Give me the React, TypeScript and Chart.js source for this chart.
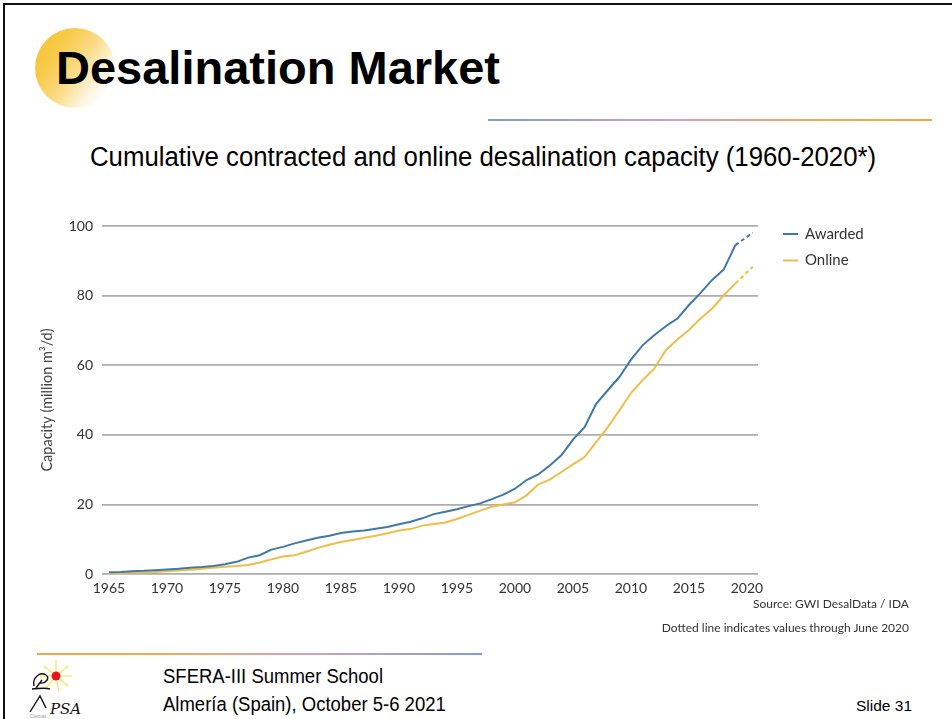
import React, { useEffect, useRef } from "react";
import { Chart, registerables } from "chart.js";

Chart.register(...registerables);

const years: number[] = [
  1965, 1966, 1967, 1968, 1969, 1970, 1971, 1972, 1973, 1974,
  1975, 1976, 1977, 1978, 1979, 1980, 1981, 1982, 1983, 1984,
  1985, 1986, 1987, 1988, 1989, 1990, 1991, 1992, 1993, 1994,
  1995, 1996, 1997, 1998, 1999, 2000, 2001, 2002, 2003, 2004,
  2005, 2006, 2007, 2008, 2009, 2010, 2011, 2012, 2013, 2014,
  2015, 2016, 2017, 2018, 2019, 2020.5,
];

const awarded: number[] = [
  0.5, 0.6, 0.8, 0.9, 1.1, 1.3, 1.5, 1.8, 2.0, 2.3,
  2.8, 3.5, 4.7, 5.4, 7.0, 7.8, 8.8, 9.6, 10.4, 11.0,
  11.8, 12.2, 12.5, 13.0, 13.5, 14.3, 15.0, 16.0, 17.2, 17.9,
  18.6, 19.5, 20.3, 21.5, 22.8, 24.5, 27.0, 28.6, 31.2, 34.1,
  38.6, 42.2, 48.9, 52.8, 56.6, 61.6, 65.7, 68.6, 71.2, 73.4,
  77.3, 80.8, 84.5, 87.5, 94.5, 98.1,
];

const online: number[] = [
  0.2, 0.3, 0.4, 0.5, 0.6, 0.8, 1.0, 1.2, 1.5, 1.8,
  2.1, 2.3, 2.6, 3.3, 4.2, 5.0, 5.4, 6.4, 7.5, 8.4,
  9.2, 9.8, 10.4, 11.0, 11.7, 12.5, 12.9, 13.9, 14.4, 14.8,
  15.8, 17.0, 18.2, 19.3, 20.0, 20.6, 22.6, 25.7, 27.1, 29.3,
  31.5, 33.6, 37.9, 42.2, 47.0, 52.0, 55.7, 59.0, 64.3, 67.4,
  70.1, 73.4, 76.3, 80.1, 83.5, 88.3,
];

const xTickYears: number[] = [1965, 1970, 1975, 1980, 1985, 1990, 1995, 2000, 2005, 2010, 2015, 2020];
const seriesNames: string[] = ["Awarded", "Online"];
const seriesColors: string[] = ["#3f78a9", "#efbd4a"];

const CHART_FONT = "Lato, 'Open Sans', sans-serif";
const SLIDE_FONT = "'Liberation Sans', Arial, sans-serif";

const legendPlugin = {
  id: "sideLegend",
  afterDraw(chart: any) {
    const { ctx, chartArea } = chart;
    ctx.save();
    ctx.font = `15px ${CHART_FONT}`;
    ctx.textBaseline = "middle";
    chart.data.datasets.forEach((ds: any, i: number) => {
      const y = chartArea.top + 8 + i * 26.5;
      const x0 = chartArea.right + 25;
      ctx.strokeStyle = ds.borderColor;
      ctx.lineWidth = 2;
      ctx.beginPath();
      ctx.moveTo(x0, y);
      ctx.lineTo(x0 + 15, y);
      ctx.stroke();
      ctx.fillStyle = "#333";
      ctx.fillText(ds.label, x0 + 22, y);
    });
    ctx.restore();
  },
};

function ChartView() {
  const ref = useRef<HTMLCanvasElement | null>(null);
  useEffect(() => {
    if (!ref.current) return;
    const lastIdx = years.length - 1;
    const mk = (vals: number[], i: number) => ({
      label: seriesNames[i],
      data: years.map((yr, k) => ({ x: yr, y: vals[k] })),
      borderColor: seriesColors[i],
      backgroundColor: seriesColors[i],
      borderWidth: 2,
      pointRadius: 0,
      tension: 0,
      fill: false,
      segment: {
        borderDash: (c: any) => (c.p1DataIndex === lastIdx ? [4, 3] : undefined),
      },
    });
    const chart = new Chart(ref.current, {
      type: "line",
      data: { datasets: [mk(awarded, 0), mk(online, 1)] },
      options: {
        animation: false,
        responsive: false,
        maintainAspectRatio: false,
        layout: { padding: { top: 20, right: 142, left: 0, bottom: 0 } },
        plugins: { legend: { display: false }, tooltip: { enabled: false } },
        scales: {
          x: {
            type: "linear",
            min: 1964.4,
            max: 2020.95,
            afterBuildTicks: (scale: any) => {
              scale.ticks = xTickYears.map((v) => ({ value: v }));
            },
            afterFit: (scale: any) => {
              scale.height = 28;
            },
            grid: { display: false, drawTicks: false },
            border: { display: false },
            ticks: {
              autoSkip: false,
              maxRotation: 0,
              padding: 6,
              color: "#333",
              font: { family: CHART_FONT, size: 14 },
              callback: (v: any) => String(v),
            },
          },
          y: {
            min: 0,
            max: 100,
            afterFit: (scale: any) => {
              scale.width = 72;
            },
            grid: { color: "#adadad", lineWidth: 1.7, drawTicks: false },
            border: { display: false },
            ticks: {
              stepSize: 20,
              padding: 9,
              color: "#333",
              font: { family: CHART_FONT, size: 14 },
            },
            title: {
              display: true,
              text: "Capacity (million m³/d)",
              color: "#444",
              padding: { top: 9, bottom: 0 },
              font: { family: CHART_FONT, size: 14.5 },
            },
          },
        },
      },
      plugins: [legendPlugin],
    });
    return () => chart.destroy();
  }, []);
  return (
    <canvas
      ref={ref}
      width={870}
      height={396}
      style={{ position: "absolute", left: 30, top: 206, width: 870, height: 396 }}
    />
  );
}

export default function App() {
  return (
    <div
      style={{
        position: "absolute",
        left: 0,
        top: 0,
        width: 952,
        height: 719,
        overflow: "hidden",
        background: "#fff",
      }}
    >
      {/* slide frame */}
      <div
        style={{
          position: "absolute",
          left: 3,
          top: 3,
          width: 1000,
          height: 800,
          borderTop: "2px solid #111",
          borderLeft: "2px solid #111",
        }}
      />
      {/* title decoration */}
      <div
        style={{
          position: "absolute",
          left: 35,
          top: 28,
          width: 80,
          height: 80,
          borderRadius: "50%",
          background:
            "linear-gradient(125deg, #f5c12f 0%, #f7ca48 28%, #fadb88 52%, #fff4dc 72%, #ffffff 86%)",
        }}
      />
      <div
        style={{
          position: "absolute",
          left: 56,
          top: 44,
          fontFamily: SLIDE_FONT,
          fontWeight: "bold",
          fontSize: 47,
          lineHeight: 1,
          color: "#000",
          whiteSpace: "nowrap",
        }}
      >
        Desalination Market
      </div>
      <div
        style={{
          position: "absolute",
          left: 488,
          top: 119,
          width: 444,
          height: 2,
          background: "linear-gradient(90deg, #7b9fd2 0%, #d7a3b4 45%, #f0aa58 75%, #f2a640 100%)",
        }}
      />
      <div
        style={{
          position: "absolute",
          left: 90,
          top: 144,
          fontFamily: SLIDE_FONT,
          fontSize: 27,
          lineHeight: 1,
          color: "#000",
          whiteSpace: "nowrap",
          transform: "scaleX(0.954)",
          transformOrigin: "left top",
        }}
      >
        Cumulative contracted and online desalination capacity (1960-2020*)
      </div>

      <ChartView />

      <div
        style={{
          position: "absolute",
          right: 43,
          top: 598,
          fontFamily: CHART_FONT,
          fontSize: 12,
          lineHeight: 1,
          color: "#333",
          whiteSpace: "nowrap",
        }}
      >
        Source: GWI DesalData / IDA
      </div>
      <div
        style={{
          position: "absolute",
          right: 43,
          top: 622,
          fontFamily: CHART_FONT,
          fontSize: 12,
          lineHeight: 1,
          color: "#333",
          whiteSpace: "nowrap",
        }}
      >
        Dotted line indicates values through June 2020
      </div>

      {/* footer */}
      <div
        style={{
          position: "absolute",
          left: 37,
          top: 653,
          width: 445,
          height: 2,
          background: "linear-gradient(90deg, #f2a640 0%, #f0aa58 30%, #d7a3b4 60%, #7b9fd2 100%)",
        }}
      />
      <svg
        style={{ position: "absolute", left: 28, top: 656 }}
        width={60}
        height={63}
        viewBox="0 0 60 63"
      >
        {[0, 40, 80, 130, 180, 220, 270, 320].map((a, i) => {
          const r = (a * Math.PI) / 180;
          return (
            <line
              key={i}
              x1={28 + Math.cos(r) * 5}
              y1={20 + Math.sin(r) * 5}
              x2={28 + Math.cos(r) * 16}
              y2={20 + Math.sin(r) * 16}
              stroke="#f7e84a"
              strokeWidth={1.2}
            />
          );
        })}
        <circle cx={28} cy={20} r={4.5} fill="#e8141a" />
        <path
          d="M6 30 C 4 22, 12 15, 18 19 C 22 22, 18 28, 12 27 M8 32 L 14 24 M 4 33 C 10 33, 16 31, 22 33"
          stroke="#111"
          strokeWidth={1.4}
          fill="none"
        />
        <path d="M2 56 L 12 40 L 18 52" stroke="#111" strokeWidth={1.4} fill="none" />
        <text
          x={22}
          y={58}
          fontFamily="'DejaVu Serif', serif"
          fontStyle="italic"
          fontSize={15}
          fill="#111"
        >
          PSA
        </text>
        <text x={2} y={62} fontFamily={SLIDE_FONT} fontSize={5} fill="#999">
          Ciemat
        </text>
      </svg>
      <div
        style={{
          position: "absolute",
          left: 163,
          top: 666,
          fontFamily: SLIDE_FONT,
          fontSize: 20,
          lineHeight: 1,
          color: "#000",
          whiteSpace: "nowrap",
          transform: "scaleX(0.925)",
          transformOrigin: "left top",
        }}
      >
        SFERA-III Summer School
      </div>
      <div
        style={{
          position: "absolute",
          left: 163,
          top: 694,
          fontFamily: SLIDE_FONT,
          fontSize: 20,
          lineHeight: 1,
          color: "#000",
          whiteSpace: "nowrap",
          transform: "scaleX(0.925)",
          transformOrigin: "left top",
        }}
      >
        Almería (Spain), October 5-6 2021
      </div>
      <div
        style={{
          position: "absolute",
          right: 40,
          top: 698,
          fontFamily: SLIDE_FONT,
          fontSize: 15.5,
          lineHeight: 1,
          color: "#000",
          whiteSpace: "nowrap",
        }}
      >
        Slide 31
      </div>
    </div>
  );
}
